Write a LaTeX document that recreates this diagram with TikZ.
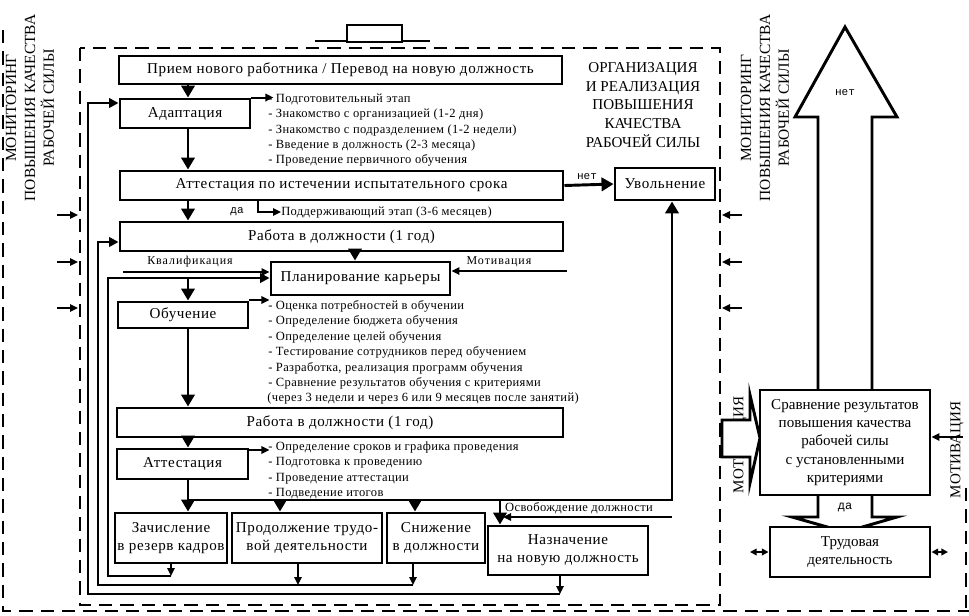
\documentclass[tikz,border=0pt]{standalone}
\usepackage{fontspec}
\setmainfont{Liberation Serif}
\newfontfamily\boxfont[LetterSpace=4]{Liberation Serif}
\newfontfamily\listfont[LetterSpace=3]{Liberation Serif}
\newfontfamily\lblfont[LetterSpace=8]{Liberation Serif}
\newfontfamily\cmono{Liberation Mono}
\usetikzlibrary{arrows.meta}
\newcommand\mainsz{\boxfont\fontsize{11.3}{13.7}\selectfont}
\newcommand\bigsz{\fontsize{11.3}{13.6}\selectfont}
\newcommand\sidesz{\fontsize{11.6}{14.2}\selectfont}
\newcommand\orgsz{\fontsize{11.3}{14}\selectfont}
\newcommand\listsz{\listfont\fontsize{9.4}{11}\selectfont}
\newcommand\lblsz{\lblfont\fontsize{9}{10}\selectfont}
\newcommand\nsz{\cmono\fontsize{8.3}{10}\selectfont}
\begin{document}
\begin{tikzpicture}[x=0.75pt,y=-0.75pt,
  box/.style={draw, line width=2.2pt, fill=white, inner sep=1pt, align=center, font=\mainsz},
  wh/.style 2 args={minimum width=#1*0.75pt, minimum height=#2*0.75pt},
  conn/.style={line width=2.2pt},
  arr/.style={line width=2.2pt, -{Triangle[width=10pt,length=9pt]}},
  larr/.style={line width=1.8pt, -{Triangle[width=7pt,length=7pt]}},
  sarr/.style={line width=1.5pt, -{Triangle[width=5.5pt,length=6pt]}},
  darr/.style={line width=1.5pt, {Triangle[width=5pt,length=5pt]}-{Triangle[width=5pt,length=5pt]}},
  dsh/.style={line width=2.2pt, dash pattern=on 10pt off 6pt},
  lst/.style={anchor=west, inner sep=0pt, font=\listsz},
  lbl/.style={inner sep=0pt, font=\lblsz},
  nlbl/.style={inner sep=0pt, font=\nsz},
  shp/.style={line width=2.2pt, fill=white, line join=miter}
]
\useasboundingbox (0,0) rectangle (969,615);

% ---- dashed frames
\draw[dsh] (3,30) -- (3,611) -- (969,611);
\draw[dsh] (966,488) -- (966,611);
\draw[dsh] (80,48) rectangle (720,605);

% ---- top handle
\draw[line width=2.2pt] (315,41) -- (430,41);
\draw[line width=2.2pt, fill=white] (347,25) rectangle (402,42);

% ---- side texts
\node[rotate=90, align=center, font=\sidesz, inner sep=0pt] (monL) at (30,108)
  {МОНИТОРИНГ\\ПОВЫШЕНИЯ КАЧЕСТВА\\РАБОЧЕЙ СИЛЫ};
\node[rotate=90, align=center, font=\sidesz, inner sep=0pt] (monR) at (765,108)
  {МОНИТОРИНГ\\ПОВЫШЕНИЯ КАЧЕСТВА\\РАБОЧЕЙ СИЛЫ};
\node[align=center, font=\orgsz, inner sep=0pt] (org) at (643,105)
  {ОРГАНИЗАЦИЯ\\И РЕАЛИЗАЦИЯ\\ПОВЫШЕНИЯ\\КАЧЕСТВА\\РАБОЧЕЙ СИЛЫ};

% ---- side small arrows
\foreach \yy [count=\i] in {215,262,308} {
  \coordinate (la\i) at (57,\yy); \coordinate (lb\i) at (78,\yy);
  \draw[sarr] (la\i) -- (lb\i);
  \coordinate (ra\i) at (742,\yy); \coordinate (rb\i) at (722,\yy);
  \draw[sarr] (ra\i) -- (rb\i);
}

% ---- helper coordinates
\foreach \xx in {88,98,108,123,171,188,258,280,298,355,413,415,500,503,560,567,672}
  {\coordinate (x\xx) at (\xx,0);}
\foreach \yy in {103,212,242,271,272,278,300,450,500,517,576,585,594}
  {\coordinate (y\yy) at (0,\yy);}

% ---- boxes
\node[box, wh={443}{28}] (priem) at (340.5,70) {Прием нового работника / Перевод на новую должность};
\node[box, wh={130}{29}] (adapt) at (185,113.5) {Адаптация};
\node[box, wh={443}{29}] (att1) at (341.5,185.5) {Аттестация по истечении испытательного срока};
\node[box, wh={100}{32}] (uvol) at (665,184) {Увольнение};
\node[box, wh={443}{29}] (rab1) at (341.5,236.5) {Работа в должности (1 год)};
\node[box, wh={179}{33}] (plan) at (360.5,278.5) {Планирование карьеры};
\node[box, wh={130}{26}] (obuch) at (183,315) {Обучение};
\node[box, wh={446}{29}] (rab2) at (340,422.5) {Работа в должности (1 год)};
\node[box, wh={131}{30}] (att2) at (182.5,464) {Аттестация};
\node[box, wh={112}{50}] (zach) at (171,538) {Зачисление\\в резерв кадров};
\node[box, wh={150}{50}] (prod) at (307,538) {Продолжение трудо-\\вой деятельности};
\node[box, wh={98}{50}] (snizh) at (436,538) {Снижение\\в должности};
\node[box, wh={160}{49}] (nazn) at (568,550.5) {Назначение\\на новую должность};

% ---- main flow connectors
\draw[arr] (priem.south -| x188) -- (adapt.north -| x188);
\draw[arr] (adapt.south -| x188) -- (att1.north -| x188);
\draw[arr] (att1.south -| x188) -- (rab1.north -| x188);
\node[nlbl] (da1) at (237,212) {да};
\draw[sarr] (att1.south -| x258) -- (x258 |- y212) -- (281,212) coordinate (pend);
\node[lst] (podd) at (pend) {Поддерживающий этап (3-6 месяцев)};
\draw[arr] (att1.east) -- (uvol.west);
\node[nlbl] (net1) at (587,177) {нет};
\draw[arr] (rab1.south -| x355) -- (plan.north -| x355);
\draw[sarr] (x123 |- y272) -- (plan.west |- y272);
\node[lbl] (kval) at (190,262) {Квалификация};
\draw[sarr] (x567 |- y271) -- (plan.east |- y271);
\node[lbl] (motiv) at (499,262) {Мотивация};
\draw[arr] (x188 |- y278) -- (obuch.north -| x188);
\draw[arr] (obuch.south -| x188) -- (rab2.north -| x188);
\draw[arr] (rab2.south -| x188) -- (att2.north -| x188);
\draw[arr] (att2.south -| x188) -- (zach.north -| x188);
\draw[arr] (x188 |- y500) -- (x672 |- y500) -- (uvol.south -| x672);
\draw[arr] (x280 |- y500) -- (prod.north -| x280);
\draw[arr] (x415 |- y500) -- (snizh.north -| x415);
\draw[arr] (x500 |- y500) -- (nazn.north -| x500);
\draw[sarr] (x672 |- y517) -- (x503 |- y517);
\node[lbl, font=\listsz] (osv) at (579,508) {Освобождение должности};

% ---- feedback loops
\draw[sarr] (zach.south -| x171) -- (x171 |- y576);
\draw[larr] (x171 |- y576) -- (x108 |- y576) -- (x108 |- y278) -- (plan.west |- y278);
\draw[sarr] (prod.south -| x298) -- (x298 |- y585);
\draw[sarr] (snizh.south -| x413) -- (x413 |- y585);
\draw[larr] (x413 |- y585) -- (x98 |- y585) -- (x98 |- y242) -- (rab1.west |- y242);
\draw[sarr] (nazn.south -| x560) -- (x560 |- y594);
\draw[larr] (x560 |- y594) -- (x88 |- y594) -- (x88 |- y103) -- (adapt.west |- y103);

% ---- lists
\draw[sarr] (adapt.north east) -- ++(22,0);
\node[lst] (a1) at (268,99) {- Подготовительный этап};
\node[lst] (a2) at (268,114) {- Знакомство с организацией (1-2 дня)};
\node[lst] (a3) at (268,130) {- Знакомство с подразделением (1-2 недели)};
\node[lst] (a4) at (268,145) {- Введение в должность (2-3 месяца)};
\node[lst] (a5) at (268,160) {- Проведение первичного обучения};

\draw[sarr] (obuch.north east |- y300) -- ++(20,0);
\node[lst] (b1) at (268,306) {- Оценка потребностей в обучении};
\node[lst] (b2) at (268,321) {- Определение бюджета обучения};
\node[lst] (b3) at (268,337) {- Определение целей обучения};
\node[lst] (b4) at (268,352) {- Тестирование сотрудников перед обучением};
\node[lst] (b5) at (268,368) {- Разработка, реализация программ обучения};
\node[lst] (b6) at (268,383) {- Сравнение результатов обучения с критериями};
\node[lst] (b7) at (267,398) {(через 3 недели и через 6 или 9 месяцев после занятий)};

\draw[sarr] (att2.north east |- y450) -- ++(20,0);
\node[lst] (c1) at (268,447) {- Определение сроков и графика проведения};
\node[lst] (c2) at (268,463) {- Подготовка к проведению};
\node[lst] (c3) at (268,479) {- Проведение аттестации};
\node[lst] (c4) at (268,494) {- Подведение итогов};

% ---- right part
\draw[shp] (818,390) -- (818,117) -- (795,117) -- (845,27) -- (897,117) -- (872,117) -- (872,390);
\node[nlbl] (net2) at (845,93) {нет};
\node[rotate=90, font=\bigsz, inner sep=0pt] (motL) at (740,445) {МОТИВАЦИЯ};
\draw[shp] (722,420) -- (750,420) -- (750,395) -- (760,438) -- (750,483) -- (750,457) -- (722,457) -- cycle;
\node[rotate=90, font=\bigsz, inner sep=0pt] (motR) at (957,450) {МОТИВАЦИЯ};
\draw[shp] (818,490) -- (818,517) -- (792,517) -- (845,532) -- (897,517) -- (872,517) -- (872,490);
\node[box, wh={170}{105}, font=\bigsz] (sravn) at (845,442.5)
  {Сравнение результатов\\повышения качества\\рабочей силы\\с установленными\\критериями};
\node[nlbl, font=\cmono\fontsize{9}{10}\selectfont] (da2) at (845,507) {да};
\node[box, wh={160}{50}, font=\bigsz] (trud) at (850,552) {Трудовая\\деятельность};
\coordinate (mr) at (963,437);
\draw[sarr] (mr) -- (sravn.east |- mr);
\coordinate (dl) at (750,552);
\coordinate (dr) at (948,552);
\draw[darr] (dl) -- (trud.west);
\draw[darr] (trud.east) -- (dr);
\end{tikzpicture}
\end{document}
